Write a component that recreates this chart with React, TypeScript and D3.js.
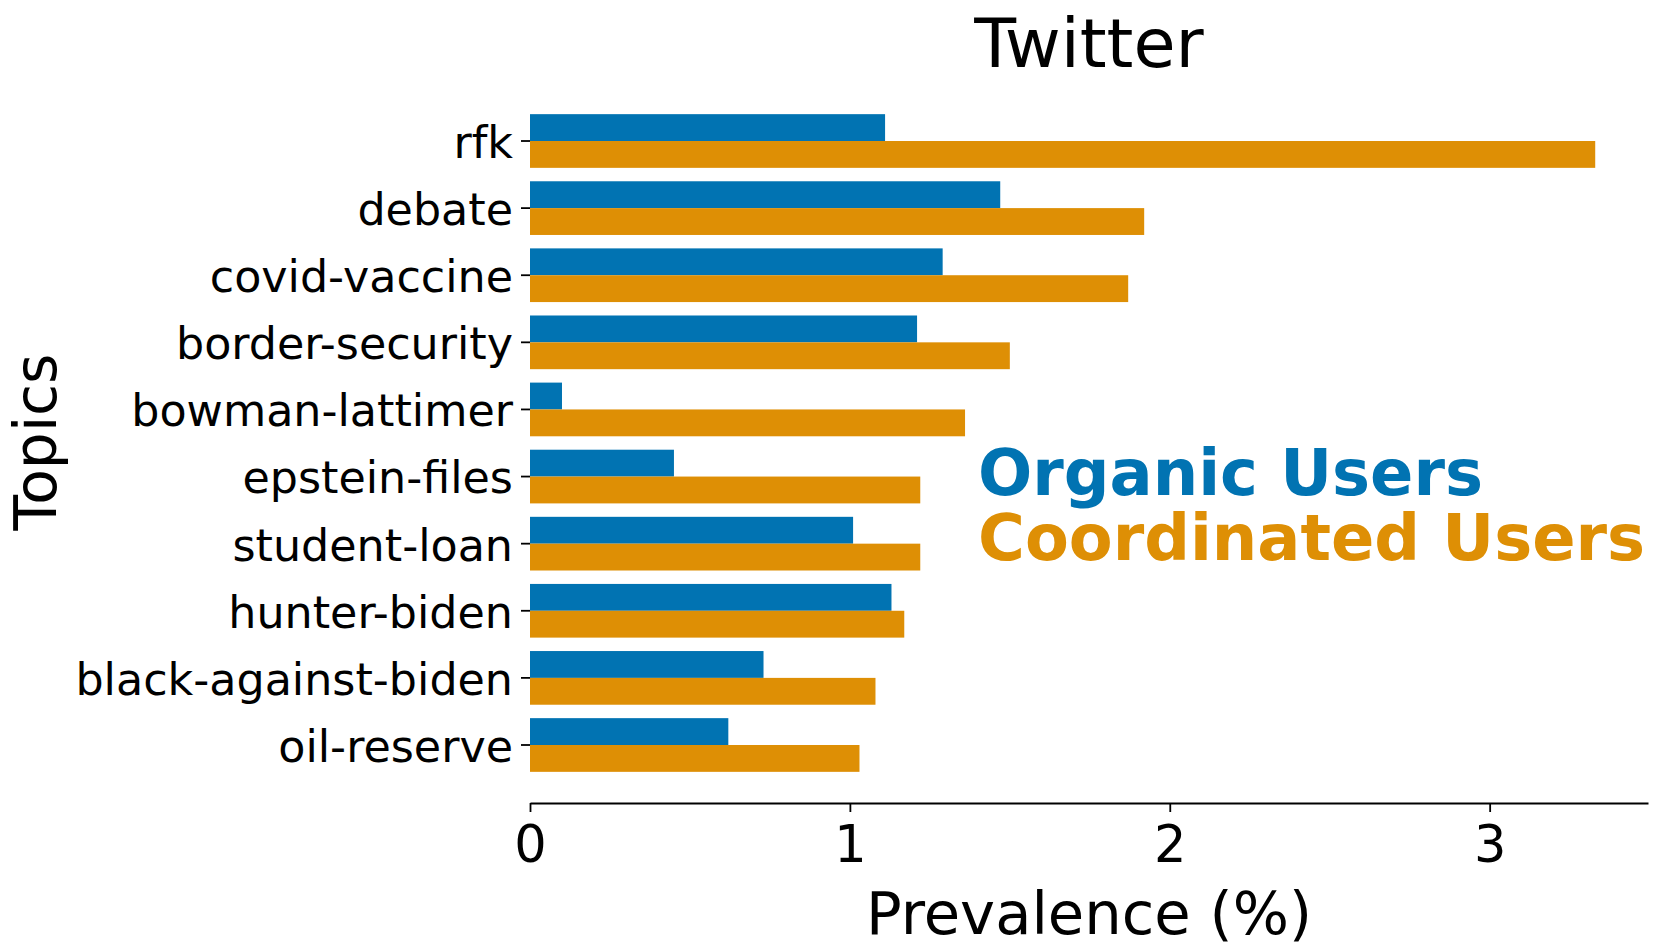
import React, { useEffect, useRef } from "react";
import * as d3 from "d3";

const topics = [
  "rfk",
  "debate",
  "covid-vaccine",
  "border-security",
  "bowman-lattimer",
  "epstein-files",
  "student-loan",
  "hunter-biden",
  "black-against-biden",
  "oil-reserve",
];
const organicValues = [1.11, 1.47, 1.29, 1.21, 0.1, 0.45, 1.01, 1.13, 0.73, 0.62];
const coordinatedValues = [3.33, 1.92, 1.87, 1.5, 1.36, 1.22, 1.22, 1.17, 1.08, 1.03];
const seriesNames = ["Organic Users", "Coordinated Users"];
const seriesColors = ["#0173b2", "#de8f05"];
const xTicks = [0, 1, 2, 3];

const W = 1661;
const H = 952;
const FONT = "DejaVu Sans, sans-serif";

export default function App() {
  const ref = useRef<SVGSVGElement | null>(null);

  useEffect(() => {
    document.body.style.margin = "0";
    const svg = d3.select(ref.current);
    svg.selectAll("*").remove();

    const left = 530;
    const right = 1648;
    const axisY = 803;
    const bandTop = 107.45;
    const bandBottom = 778.55;

    const x = d3.scaleLinear().domain([0, 3.495]).range([left, right]);
    const y = d3
      .scaleBand<string>()
      .domain(topics)
      .range([bandTop, bandBottom])
      .paddingInner(0.2)
      .paddingOuter(0.1);
    const sub = d3
      .scaleBand<string>()
      .domain(seriesNames)
      .range([0, y.bandwidth()])
      .padding(0);

    const data = topics.map((t, i) => ({
      topic: t,
      values: [organicValues[i], coordinatedValues[i]],
    }));

    const g = svg.append("g");
    const groups = g
      .selectAll("g.grp")
      .data(data)
      .join("g")
      .attr("class", "grp")
      .attr("transform", (d) => `translate(0,${y(d.topic)})`);

    groups
      .selectAll("rect")
      .data((d) => d.values.map((v, k) => ({ v, k })))
      .join("rect")
      .attr("x", x(0))
      .attr("y", (d) => sub(seriesNames[d.k]) as number)
      .attr("width", (d) => x(d.v) - x(0))
      .attr("height", sub.bandwidth())
      .attr("fill", (d) => seriesColors[d.k]);

    // x axis
    const xAxis = d3
      .axisBottom(x)
      .tickValues(xTicks)
      .tickFormat(d3.format("d"))
      .tickSizeInner(9)
      .tickSizeOuter(0)
      .tickPadding(14);
    const xg = svg.append("g").attr("transform", `translate(0,${axisY})`).call(xAxis);
    xg.select(".domain").attr("stroke", "#000").attr("stroke-width", 1.8);
    xg.selectAll(".tick line").attr("stroke", "#000").attr("stroke-width", 1.8);
    xg.selectAll(".tick text")
      .attr("font-family", FONT)
      .attr("font-size", 51)
      .attr("fill", "#000")
      .attr("dy", "0.71em");

    // y axis (ticks and labels only)
    const yAxis = d3
      .axisLeft(y)
      .tickSizeInner(9)
      .tickSizeOuter(0)
      .tickPadding(8);
    const yg = svg.append("g").attr("transform", `translate(${left},0)`).call(yAxis);
    yg.select(".domain").remove();
    yg.selectAll(".tick line").attr("stroke", "#000").attr("stroke-width", 1.8);
    yg.selectAll(".tick text")
      .attr("font-family", FONT)
      .attr("font-size", 44.4)
      .attr("fill", "#000")
      .attr("dy", "0.38em");

    // title
    svg
      .append("text")
      .attr("x", (left + right) / 2)
      .attr("y", 67)
      .attr("text-anchor", "middle")
      .attr("font-family", FONT)
      .attr("font-size", 68.5)
      .attr("fill", "#000")
      .text("Twitter");

    // x label
    svg
      .append("text")
      .attr("x", (left + right) / 2)
      .attr("y", 934)
      .attr("text-anchor", "middle")
      .attr("font-family", FONT)
      .attr("font-size", 59.2)
      .attr("fill", "#000")
      .text("Prevalence (%)");

    // y label
    svg
      .append("text")
      .attr("transform", `translate(56,${(81 + axisY) / 2}) rotate(-90)`)
      .attr("text-anchor", "middle")
      .attr("font-family", FONT)
      .attr("font-size", 58.3)
      .attr("fill", "#000")
      .text("Topics");

    // legend text
    seriesNames.forEach((name, k) => {
      svg
        .append("text")
        .attr("x", 978)
        .attr("y", 495 + k * 65)
        .attr("font-family", FONT)
        .attr("font-weight", "bold")
        .attr("font-size", 63.9)
        .attr("fill", seriesColors[k])
        .text(name);
    });
  }, []);

  return (
    <svg
      ref={ref}
      width={W}
      height={H}
      viewBox={`0 0 ${W} ${H}`}
      style={{ display: "block", background: "#fff" }}
    />
  );
}
